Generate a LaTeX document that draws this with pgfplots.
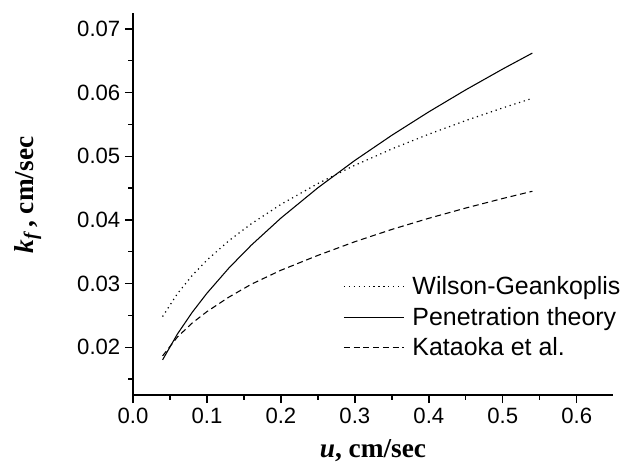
\documentclass[border=0pt]{standalone}
\usepackage{fontspec}
\setmainfont{Liberation Sans}
\newfontfamily\timesfont{Liberation Serif}
\usepackage{pgfplots}
\pgfplotsset{compat=1.18}
\begin{document}
\begin{tikzpicture}
\begin{axis}[
  scale only axis,
  width=360pt, height=286.5pt,
  xmin=0, xmax=0.649, ymin=0.0125, ymax=0.0725,
  axis x line*=bottom, axis y line*=left,
  axis line style={line width=1.1pt},
  tick align=outside,
  tick style={line width=1.0pt, black},
  major tick length=6pt, minor tick length=3.5pt,
  xtick={0,0.1,0.2,0.3,0.4,0.5,0.6},
  ytick={0.02,0.03,0.04,0.05,0.06,0.07},
  minor xtick={0.05,0.15,0.25,0.35,0.45,0.55,0.65},
  minor ytick={0.015,0.025,0.035,0.045,0.055,0.065},
  xticklabel style={/pgf/number format/.cd, fixed, fixed zerofill, precision=1},
  yticklabel style={/pgf/number format/.cd, fixed, fixed zerofill, precision=2},
  /pgf/number format/assume math mode=true,
  scaled x ticks=false, scaled y ticks=false,
  ticklabel style={font=\fontsize{16.6}{19}\selectfont},
  xlabel={\timesfont\bfseries\itshape u\upshape, cm/sec},
  ylabel={\timesfont\bfseries\itshape k\textsubscript{f}\upshape\,, cm/sec},
  label style={font=\fontsize{20.5}{24}\selectfont},
  xlabel style={at={(axis description cs:0.5,-0.1623)}, anchor=base},
  ylabel style={at={(axis description cs:-0.2083,0.524)}, anchor=base},
  legend style={draw=none, fill=none, at={(axis description cs:0.4375,0.204)}, anchor=west,
    font=\fontsize{18.7}{21}\selectfont, inner sep=0pt, row sep=4pt,
    nodes={inner sep=2pt}},
  legend cell align=left,
  legend image code/.code={\draw[#1] (0pt,0pt) -- (45pt,0pt); \path (49pt,0pt);},
]
\addplot[black, line width=0.9pt, dash pattern=on 0.9pt off 2.8pt] coordinates {
(0.04,0.02482) (0.06,0.02841) (0.08,0.03127) (0.10,0.03369) (0.13,0.03677) (0.16,0.03940)
(0.20,0.04244) (0.25,0.04572) (0.30,0.04859) (0.35,0.05115) (0.40,0.05347) (0.45,0.05561)
(0.50,0.05760) (0.54,0.05910)};
\addlegendentry{Wilson-Geankoplis}
\addplot[black, line width=0.8pt] coordinates {
(0.04,0.01802) (0.06,0.02207) (0.08,0.02548) (0.10,0.02849) (0.13,0.03249) (0.16,0.03604)
(0.20,0.04029) (0.25,0.04505) (0.30,0.04935) (0.35,0.05330) (0.40,0.05698) (0.45,0.06044)
(0.50,0.06371) (0.54,0.06621)};
\addlegendentry{Penetration theory}
\addplot[black, line width=0.8pt, dash pattern=on 4.5pt off 2.8pt] coordinates {
(0.04,0.01864) (0.06,0.02160) (0.08,0.02380) (0.10,0.02560) (0.13,0.02790) (0.16,0.02990)
(0.20,0.03210) (0.25,0.03443) (0.30,0.03658) (0.35,0.03851) (0.40,0.04026) (0.45,0.04187)
(0.50,0.04337) (0.54,0.04450)};
\addlegendentry{Kataoka et al.}
\end{axis}
\pgfresetboundingbox
\path[use as bounding box] (-99.75pt,-50.25pt) rectangle (368.25pt,296.25pt);
\end{tikzpicture}
\end{document}
